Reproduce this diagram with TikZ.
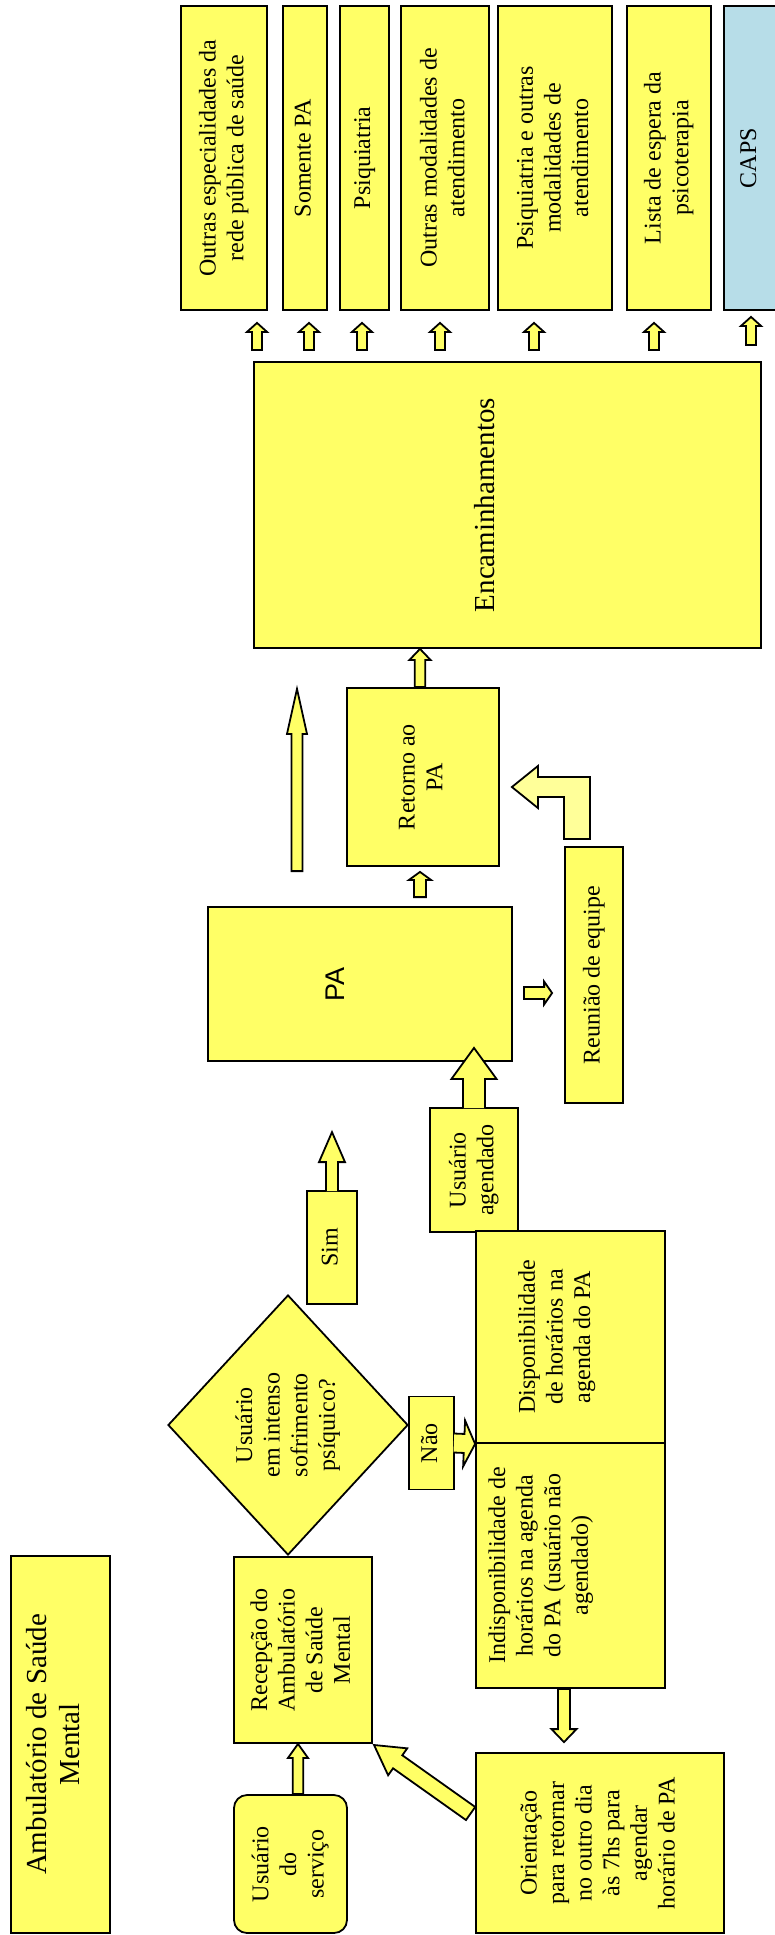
\documentclass[tikz,border=0pt]{standalone}
\usepackage{fontspec}
\setmainfont{Liberation Serif}
\newfontfamily\amSans{Liberation Sans}
\usepackage{graphicx}
\usepackage{tikz}
\usetikzlibrary{calc,shapes.geometric}
\definecolor{amYellow}{HTML}{FFFF66}
\definecolor{amPale}{HTML}{FFFF99}
\definecolor{amBlue}{HTML}{B7DDE8}
% text turned a quarter left; optional arg moves it to the left of the page
\newcommand{\vlab}[2][0pt]{\rotatebox{90}{\raisebox{#1}[\height][\depth]{\begin{tabular}{@{}c@{}}#2\end{tabular}}}}
\tikzset{
  box/.style={draw=black, line width=0.9pt, fill=amYellow, inner sep=2pt,
              font=\fontsize{12}{13.8}\selectfont},
  sz/.style 2 args={minimum width=#1*0.5pt, minimum height=#2*0.5pt},
  fat/.style args={#1/#2/#3}{draw=black, line width=0.9pt, fill=amYellow, line join=miter,
    to path={let \p1=(\tikztostart), \p2=(\tikztotarget),
                 \n1={veclen(\x2-\x1,\y2-\y1)}, \n2={atan2(\y2-\y1,\x2-\x1)} in
      {[shift={(\p1)}, rotate=\n2]
        (0pt,{-(#1)*0.5pt}) -- ({\n1-(#3)*0.5pt},{-(#1)*0.5pt})
        -- ({\n1-(#3)*0.5pt},{-(#2)*0.5pt}) -- ({\n1+0pt},0pt)
        -- ({\n1-(#3)*0.5pt},{(#2)*0.5pt}) -- ({\n1-(#3)*0.5pt},{(#1)*0.5pt})
        -- (0pt,{(#1)*0.5pt}) -- cycle}}},
  fatc/.style args={#1/#2/#3}{draw=black, line width=0.9pt, fill=amYellow, line join=miter,
    to path={let \p1=(\tikztostart), \p2=(\tikztotarget),
                 \n1={veclen(\x2-\x1,\y2-\y1)}, \n2={atan2(\y2-\y1,\x2-\x1)} in
      {[shift={(\p1)}, rotate=\n2]
        (0pt,{-(#1)*0.5pt}) -- ({\n1-(#3)*0.5pt},{-(#1)*0.5pt})
        -- ({\n1-(#3)*0.5pt},{-(#2)*0.5pt}) -- ({\n1+0pt},0pt)
        -- ({\n1-(#3)*0.5pt},{(#2)*0.5pt}) -- ({\n1-(#3)*0.5pt},{(#1)*0.5pt})
        -- (0pt,{(#1)*0.5pt})}}},
  bent/.style={draw=black, line width=0.9pt, fill=amPale, line join=miter},
}
\begin{document}
\begin{tikzpicture}[x=0.5pt, y=-0.5pt]
  \useasboundingbox (0,0) rectangle (775,1935);

  % destinos
  \node[box, sz={86}{304}] (d1) at (224,158) {\vlab{Outras especialidades da\\rede pública de saúde}};
  \node[box, sz={44}{304}] (d2) at (305,158) {\vlab{Somente PA}};
  \node[box, sz={49}{304}] (d3) at (364.5,158) {\vlab{Psiquiatria}};
  \node[box, sz={88}{304}] (d4) at (445,158) {\vlab{Outras modalidades de\\atendimento}};
  \node[box, sz={114}{304}] (d5) at (555,158) {\vlab{Psiquiatria e outras\\modalidades de\\atendimento}};
  \node[box, sz={84}{304}] (d6) at (669,158) {\vlab{Lista de espera da\\psicoterapia}};
  \node[box, fill=amBlue, sz={53}{304}] (caps) at (750.5,158) {\vlab{CAPS}};

  \node[box, sz={507}{286}] (enc) at (507.5,505)
    {\fontsize{14.5}{16.7}\selectfont\vlab[10pt]{Encaminhamentos}};
  \node[box, sz={152}{178}] (retorno) at (423,777) {\vlab{Retorno ao\\PA}};
  \node[box, sz={304}{154}] (pa) at (360,984)
    {\amSans\fontsize{13.5}{15}\selectfont\vlab[11pt]{PA}};
  \node[box, sz={58}{256}] (reuniao) at (594,975) {\vlab{Reunião de equipe}};

  \node[box, sz={88}{124}] (agend) at (474,1170) {\vlab{Usuário\\agendado}};
  \node[box, sz={50}{113}] (sim) at (332,1247.5) {\vlab{Sim}};
  \node[box, sz={45}{93}] (nao) at (431.5,1443) {\vlab{Não}};
  \node[box, diamond, inner sep=0pt, minimum width=120pt, minimum height=130pt] (crise)
    at (288,1425) {\vlab{Usuário\\em intenso\\sofrimento\\psíquico?}};
  \node[box, sz={189}{212}] (disp) at (570.5,1337)
    {\vlab[6.75pt]{Disponibilidade\\de horários na\\agenda do PA}};
  \node[box, sz={189}{245}] (indisp) at (570.5,1565.5)
    {\vlab[14.75pt]{Indisponibilidade de\\horários na agenda\\do PA (usuário não\\agendado)}};
  \node[box, sz={248}{180}] (orient) at (600,1843)
    {\vlab{Orientação\\para retornar\\no outro dia\\às 7hs para\\agendar\\horário de PA}};

  \node[box, sz={99}{377}] (title) at (60.5,1744.5)
    {\fontsize{14.5}{16.7}\selectfont\vlab[2pt]{Ambulatório de Saúde\\Mental}};
  \node[box, sz={138}{186}] (recepcao) at (303,1650) {\vlab{Recepção do\\Ambulatório\\de Saúde\\Mental}};
  \node[box, rounded corners=6.5pt, sz={113}{138}] (usuario) at (290.5,1864) {\vlab{Usuário\\do\\serviço}};

  \coordinate (simtip) at ($(sim.north)+(0,-58)$);
  \coordinate (longtip) at ($(enc.south)+(-210.5,40)$);

  \draw[fat=5/10/9] ($(d1.south)+(33,39)$) to ($(d1.south)+(33,12)$);
  \draw[fat=5/10/9] ($(d2.south)+(4,39)$) to ($(d2.south)+(4,12)$);
  \draw[fat=5/10/9] ($(d3.south)+(-2.5,39)$) to ($(d3.south)+(-2.5,12)$);
  \draw[fat=5/10/9] ($(d4.south)+(-5,39)$) to ($(d4.south)+(-5,12)$);
  \draw[fat=5/10/9] ($(d5.south)+(-21,39)$) to ($(d5.south)+(-21,12)$);
  \draw[fat=5/10/9] ($(d6.south)+(-15,39)$) to ($(d6.south)+(-15,12)$);
  \draw[fat=5/10/9] ($(caps.south)+(0.5,34)$) to ($(caps.south)+(0.5,6)$);

  \draw[fat=5.3/10.5/11] ($(retorno.north)+(-3,0)$) to ($(enc.south)+(-87.5,0)$);
  \draw[fat=5.5/10/45] ($(pa.north)+(-63,-35)$) to (longtip);
  \draw[fat=6/11/8] ($(pa.north)+(60,-9)$) to ($(retorno.south)+(-3,5)$);
  \draw[fat=6/11.5/8] ($(pa.east)+(11,9)$) to ($(reuniao.west)+(-12,18)$);
  \draw[bent] ($(retorno.east)+(12,10)$) -- ++(26,-21) -- ++(0,11) -- ++(52,0) -- ++(0,62)
    -- ++(-26,0) -- ++(0,-42) -- ++(-26,0) -- ++(0,11) -- cycle;

  \draw[fatc=11/22.5/31] ($(agend.north)+(0,1)$) to ($(pa.south)+(114,-14)$);
  \draw[fatc=6/13/30] ($(sim.north)+(0,1)$) to (simtip);
  \draw[fatc=9.5/23/11] ($(nao.east)+(-1,0)$) to (disp.south west);

  \draw[fat=5.3/10/14] ($(usuario.north)+(7.5,0)$) to ($(recepcao.south)+(-5,0)$);
  \draw[fat=6/12.5/13] ($(indisp.south)+(-6.5,0)$) to ($(orient.north)+(-36,-10)$);
  \draw[fat=8/16.5/29] ($(orient.west)+(-4.5,-29.5)$) to ($(recepcao.south east)+(1,1)$);
\end{tikzpicture}
\end{document}
